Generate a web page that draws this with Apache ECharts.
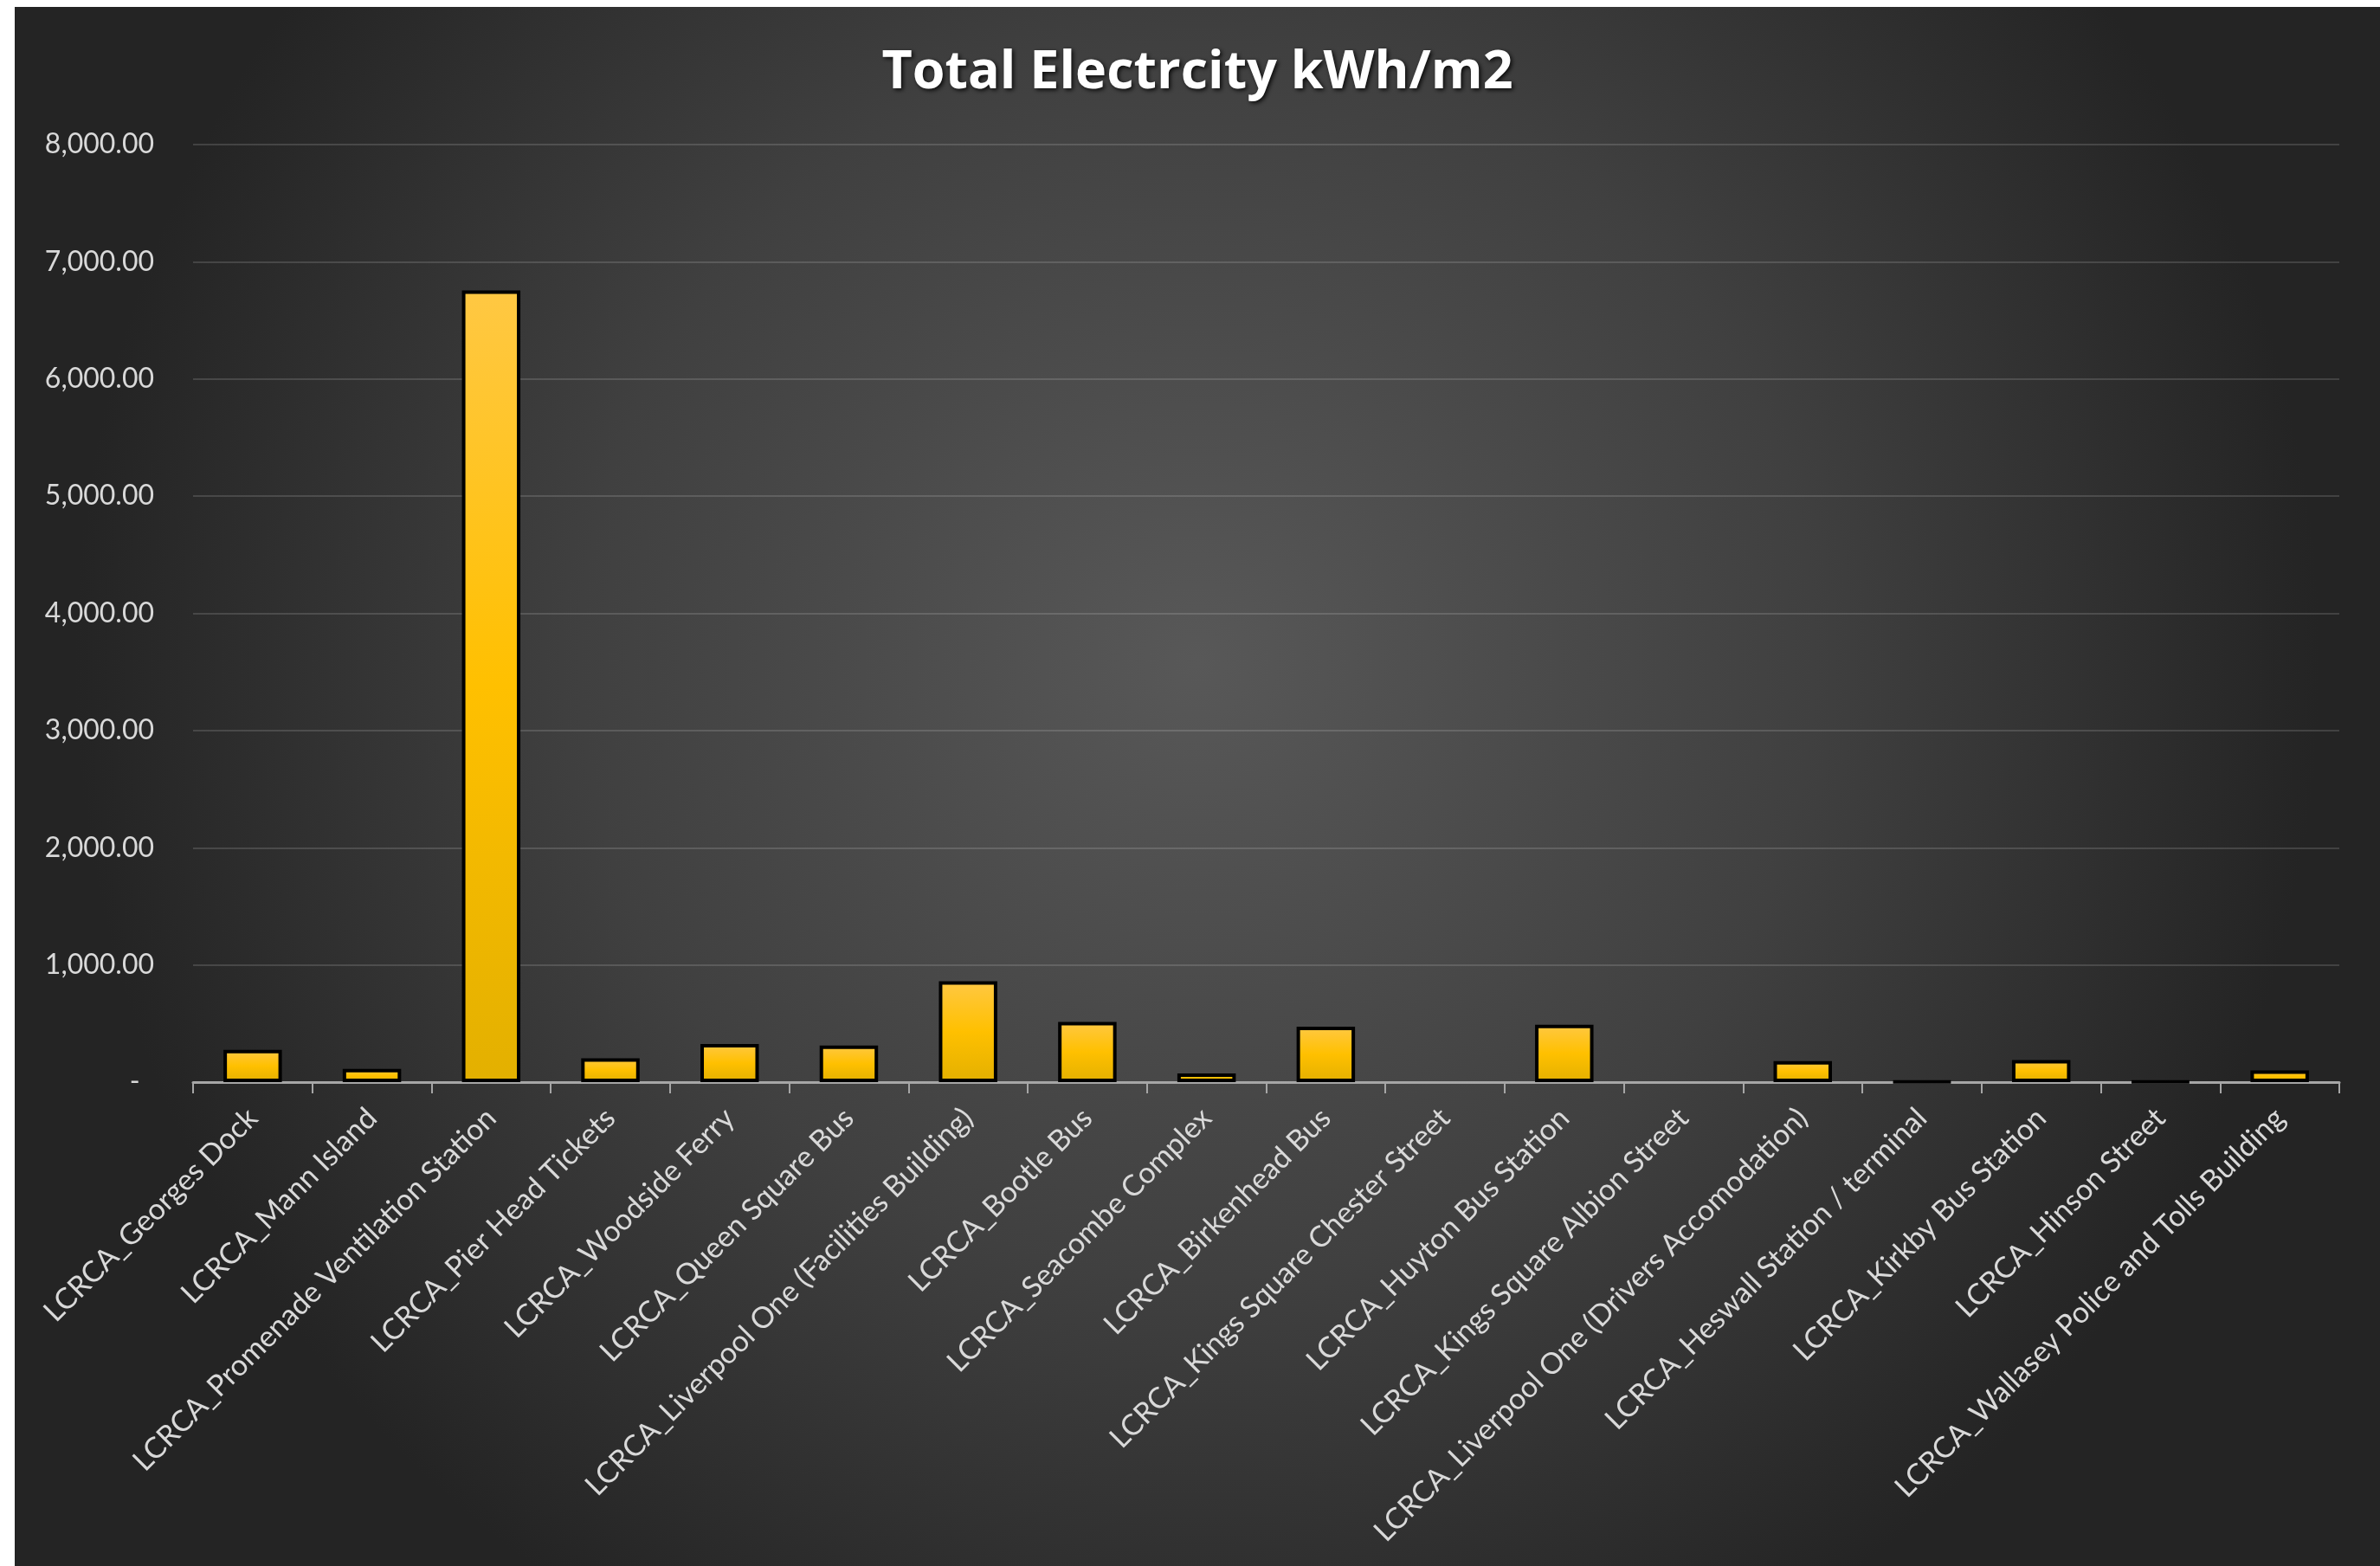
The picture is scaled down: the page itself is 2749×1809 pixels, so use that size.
<!DOCTYPE html>
<html>
<head>
<meta charset="utf-8">
<script src="https://cdn.jsdelivr.net/npm/echarts@6/dist/echarts.min.js"></script>
<style>
html,body{margin:0;padding:0;background:#ffffff;width:2749px;height:1809px;overflow:hidden;}
#chart{position:absolute;left:17px;top:8px;width:2732px;height:1801px;}
</style>
</head>
<body>
<div id="chart"></div>
<script>
const titleText = 'Total Electrcity kWh/m2';
const categories = [
  'LCRCA_Georges Dock',
  'LCRCA_Mann Island',
  'LCRCA_Promenade Ventilation Station',
  'LCRCA_Pier Head Tickets',
  'LCRCA_Woodside Ferry',
  'LCRCA_Queen Square Bus',
  'LCRCA_Liverpool One (Facilities Building)',
  'LCRCA_Bootle Bus',
  'LCRCA_Seacombe Complex',
  'LCRCA_Birkenhead Bus',
  'LCRCA_Kings Square Chester Street',
  'LCRCA_Huyton Bus Station',
  'LCRCA_Kings Square Albion Street',
  'LCRCA_Liverpool One (Drivers Accomodation)',
  'LCRCA_Heswall Station / terminal',
  'LCRCA_Kirkby Bus Station',
  'LCRCA_Hinson Street',
  'LCRCA_Wallasey Police and Tolls Building'
];
const values = [275, 112, 6755, 204, 325, 312, 861, 514, 74, 473, 0, 490, 0, 180, 5, 188, 5, 100];
const yMin = 0, yMax = 8000, yInterval = 1000;

const FONT = 'Lato';
const chart = echarts.init(document.getElementById('chart'), null, {renderer: 'canvas'});

const seriesData = values.map(v => v === 0 ? {value: 0, itemStyle: {borderWidth: 0}} : v);

chart.setOption({
  backgroundColor: {
    type: 'radial', x: 0.5, y: 0.42, r: 0.72,
    colorStops: [
      {offset: 0, color: '#585858'},
      {offset: 0.55, color: '#404040'},
      {offset: 1, color: '#242424'}
    ]
  },
  animation: false,
  title: {
    text: titleText,
    left: 'center',
    top: 41,
    textStyle: {
      fontFamily: 'Open Sans', fontWeight: 'bold', fontSize: 61, color: '#ffffff',
      textShadowColor: 'rgba(0,0,0,0.85)', textShadowBlur: 5, textShadowOffsetX: 2, textShadowOffsetY: 2
    }
  },
  grid: {left: 206, right: 47, top: 159, bottom: 559, containLabel: false},
  xAxis: {
    type: 'category',
    data: categories,
    boundaryGap: true,
    axisLine: {show: true, lineStyle: {color: '#a6a6a6', width: 3}},
    axisTick: {show: true, alignWithLabel: false, length: 13, lineStyle: {color: '#a6a6a6', width: 2}},
    axisLabel: {
      interval: 0, rotate: 45, margin: 36,
      fontFamily: FONT, fontSize: 34, color: '#d9d9d9'
    },
    splitLine: {show: false}
  },
  yAxis: {
    type: 'value',
    min: yMin, max: yMax, interval: yInterval,
    axisLine: {show: false},
    axisTick: {show: false},
    axisLabel: {
      margin: 45,
      fontFamily: FONT, fontSize: 32, color: '#d9d9d9',
      formatter: v => v === 0 ? '-  ' : v.toLocaleString('en-US', {minimumFractionDigits: 2, maximumFractionDigits: 2})
    },
    splitLine: {show: true, lineStyle: {color: 'rgba(255,255,255,0.14)', width: 2}}
  },
  series: [{
    type: 'bar',
    data: seriesData,
    barWidth: '49%',
    itemStyle: {
      color: {
        type: 'linear', x: 0, y: 0, x2: 0, y2: 1,
        colorStops: [
          {offset: 0, color: '#ffc843'},
          {offset: 0.5, color: '#ffc000'},
          {offset: 1, color: '#e3b000'}
        ]
      },
      borderColor: '#000000',
      borderWidth: 4
    }
  }]
});
</script>
</body>
</html>
